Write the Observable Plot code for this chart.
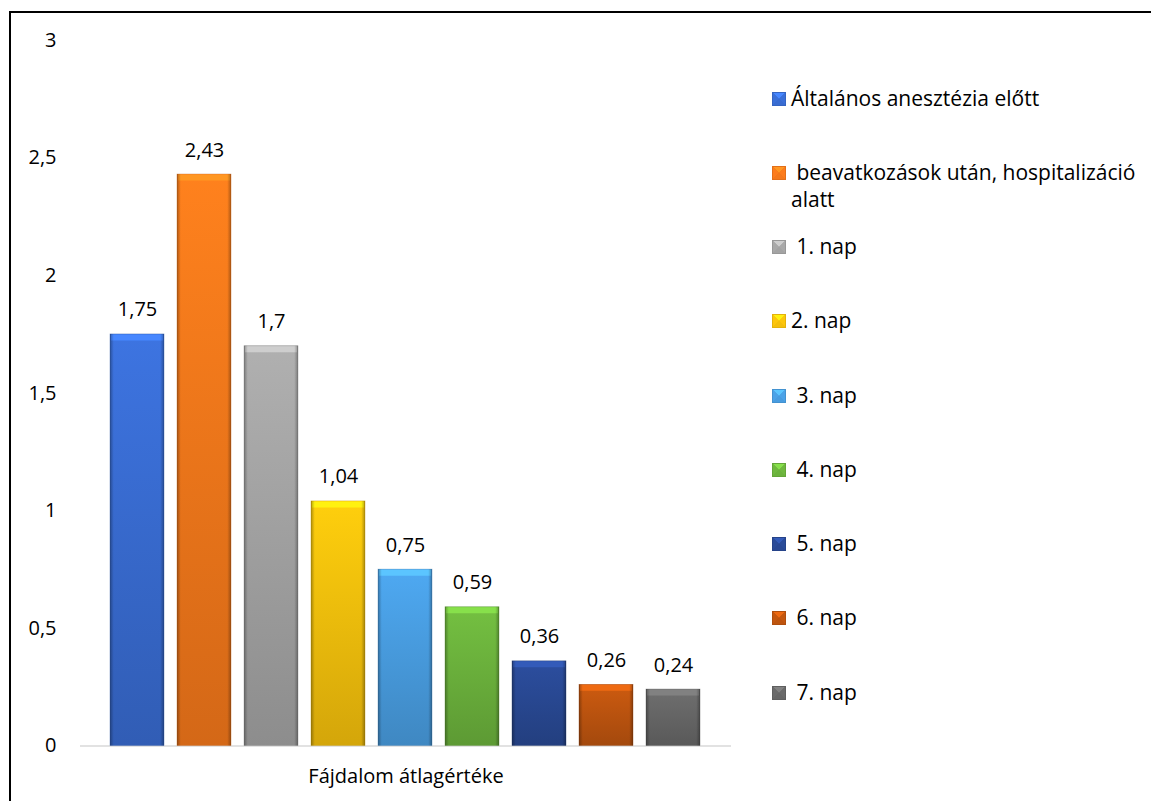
<!DOCTYPE html>
<html>
<head>
<meta charset="utf-8">
<script src="https://cdn.jsdelivr.net/npm/d3@7"></script>
<script src="https://cdn.jsdelivr.net/npm/@observablehq/plot@0.6"></script>
<style>
  html, body { margin: 0; padding: 0; background: #fff; overflow: hidden; }
  #wrap { position: relative; width: 1151px; height: 801px; font-family: "Open Sans", sans-serif; color: #000; }
  #frame { position: absolute; left: 9px; top: 11px; width: 1400px; height: 1100px; border: 2px solid #000; box-sizing: border-box; }
  #chart { position: absolute; left: 0; top: 0; }
  .item { position: absolute; left: 772px; display: flex; align-items: flex-start; font-size: 21px; line-height: 27px; }
  .item svg { flex: none; margin-top: 7px; margin-right: 5px; }
  .item span { white-space: pre-wrap; width: 360px; }
</style>
</head>
<body>
<div id="wrap">
  <div id="frame"></div>
  <div id="chart"></div>
  <div id="legend"></div>
</div>
<script>
// Average pain score, before anaesthesia and on the days after the procedure
const group = "Fájdalom átlagértéke";
const categories = [
  "Általános anesztézia előtt",
  " beavatkozások után, hospitalizáció alatt",
  " 1. nap",
  "2. nap",
  " 3. nap",
  " 4. nap",
  " 5. nap",
  " 6. nap",
  " 7. nap"
];
const values = [1.75, 2.43, 1.7, 1.04, 0.75, 0.59, 0.36, 0.26, 0.24];
const yTicks = [0, 0.5, 1, 1.5, 2, 2.5, 3];

// Office-style series palette
const palette = ["#3a6fd8", "#fd7c1c", "#a9a9a9", "#fdc60c", "#4ba2e8", "#6fb83e", "#2a4b98", "#c4570f", "#6a6a6a"];

const comma = v => String(v).replace(".", ",");
const data = categories.map((name, i) => ({group, name, value: values[i], i}));

const light = c => d3.color(c).brighter(0.55).formatHex();

const chart = Plot.plot({
  width: 760,
  height: 801,
  marginTop: 40,
  marginBottom: 55.5,
  marginLeft: 80,
  marginRight: 29,
  style: {fontSize: "20px", fontFamily: "'Open Sans', sans-serif", color: "#000", background: "transparent"},
  color: {type: "identity"},
  fx: {padding: 0, label: null, tickSize: 0, tickPadding: 23},
  x: {axis: null, domain: categories, paddingInner: 0.19, paddingOuter: 0.39},
  y: {domain: [0, 3], ticks: yTicks, tickFormat: comma, tickSize: 0, tickPadding: 24, label: null},
  marks: [
    Plot.ruleY([0], {stroke: "#d9d9d9", strokeWidth: 1.5}),
    // bar body with a vertical shading
    Plot.barY(data, {fx: "group", x: "name", y: "value", fill: d => `url(#bar-grad-${d.i})`,
      stroke: d => d3.color(palette[d.i]).darker(0.8).formatHex(), strokeWidth: 0.6, strokeOpacity: 0.6}),
    // bevelled top edge
    Plot.tickY(data, {fx: "group", x: "name", y: "value", stroke: d => light(palette[d.i]), strokeWidth: 6, dy: 3, insetLeft: 1, insetRight: 1}),
    // darker side edges
    Plot.barY(data, {fx: "group", x: "name", y: "value", fill: "url(#bar-sides)"}),
    Plot.text(data, {fx: "group", x: "name", y: "value", text: d => comma(d.value), lineAnchor: "bottom", dy: -18, fontSize: 20})
  ]
});

// gradients used by the bars
const svg = d3.select(chart.tagName.toLowerCase() === "svg" ? chart : chart.querySelector("svg"));
const defs = svg.insert("defs", ":first-child");
palette.forEach((c, i) => {
  const g = defs.append("linearGradient").attr("id", `bar-grad-${i}`).attr("x1", 0).attr("y1", 0).attr("x2", 0).attr("y2", 1);
  g.append("stop").attr("offset", "0%").attr("stop-color", d3.color(c).brighter(0.12).formatHex());
  g.append("stop").attr("offset", "100%").attr("stop-color", d3.color(c).darker(0.5).formatHex());
});
const sides = defs.append("linearGradient").attr("id", "bar-sides").attr("x1", 0).attr("y1", 0).attr("x2", 1).attr("y2", 0);
[[0, 0.3], [0.07, 0], [0.93, 0], [1, 0.3]].forEach(([o, a]) =>
  sides.append("stop").attr("offset", o).attr("stop-color", "#000").attr("stop-opacity", a));

document.getElementById("chart").appendChild(chart);

// legend on the right
const legend = document.getElementById("legend");
categories.forEach((name, i) => {
  const c = palette[i];
  const item = document.createElement("div");
  item.className = "item";
  item.style.top = (98 + i * 74.25 - 13.5) + "px";
  item.innerHTML =
    `<svg width="14" height="14" viewBox="0 0 14 14">
       <rect x="0" y="0" width="14" height="14" fill="${d3.color(c).darker(0.3).formatHex()}"/>
       <polygon points="1,1 13,1 7,7" fill="${light(c)}"/>
       <polygon points="1,13 13,13 7,7" fill="${d3.color(c).darker(0.1).formatHex()}"/>
       <polygon points="1,1 7,7 1,13" fill="${c}"/>
       <polygon points="13,1 7,7 13,13" fill="${c}"/>
     </svg><span></span>`;
  item.querySelector("span").textContent = name;
  legend.appendChild(item);
});
</script>
</body>
</html>
